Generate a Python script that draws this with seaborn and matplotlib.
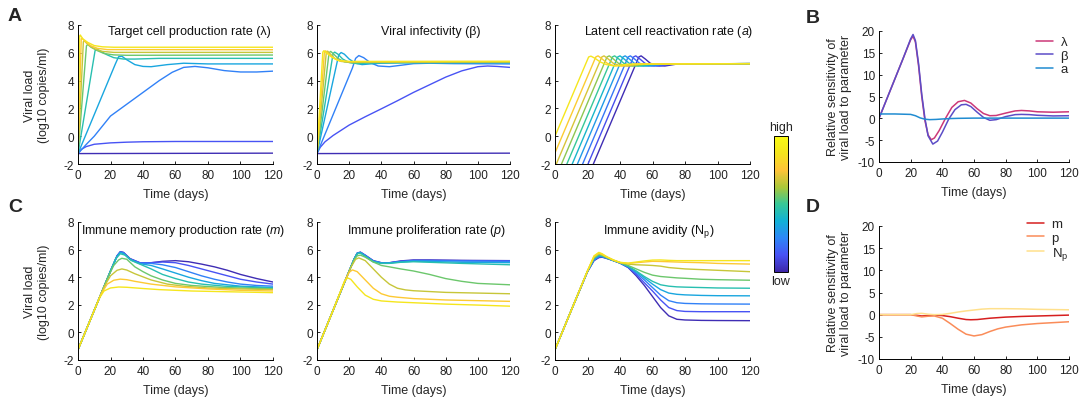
import numpy as np
import matplotlib
matplotlib.use('Agg')
import matplotlib.pyplot as plt
import seaborn as sns
from matplotlib.colors import LinearSegmentedColormap
from matplotlib.cm import ScalarMappable

# ---------------- data ----------------
# Panel A1: target cell production rate (lambda), low -> high
lam_t = [
    [0, 120],
    [0, 2, 5, 10, 20, 30, 40, 60, 80, 120],
    [0, 5, 10, 20, 30, 40, 50, 58, 65, 72, 80, 90, 100, 110, 120],
    [0, 23, 25, 27, 30, 35, 40, 45, 55, 65, 80, 120],
    [0, 10.5, 11.5, 14, 18, 22, 28, 35, 50, 120],
    [0, 5.2, 6, 8, 12, 16, 22, 30, 120],
    [0, 3.3, 4, 6, 10, 15, 22, 120],
    [0, 2.0, 2.5, 4, 8, 12, 18, 120],
    [0, 1.0, 1.4, 3, 6, 10, 15, 22, 120],
]
lam_v = [
    [-1.25, -1.22],
    [-1.25, -0.95, -0.75, -0.58, -0.48, -0.43, -0.4, -0.38, -0.38, -0.38],
    [-1.25, -0.6, 0.0, 1.45, 2.3, 3.15, 4.0, 4.6, 4.95, 5.02, 4.92, 4.72, 4.62, 4.62, 4.68],
    [-1.25, 5.2, 5.72, 5.75, 5.5, 5.15, 5.02, 5.0, 5.15, 5.25, 5.2, 5.2],
    [-1.25, 6.15, 6.27, 6.1, 5.85, 5.65, 5.55, 5.55, 5.6, 5.6],
    [-1.25, 6.5, 6.6, 6.4, 6.15, 5.95, 5.85, 5.82, 5.84],
    [-1.25, 6.8, 6.85, 6.6, 6.3, 6.1, 6.03, 6.03],
    [-1.25, 7.0, 7.05, 6.85, 6.5, 6.32, 6.23, 6.22],
    [-1.25, 7.2, 7.28, 7.0, 6.75, 6.52, 6.43, 6.4, 6.4],
]

# Panel A2: viral infectivity (beta), low -> high
beta_t = [
    [0, 120],
    [0, 2, 5, 10, 20, 30, 40, 50, 60, 70, 80, 90, 100, 106, 112, 120],
    [0, 22, 24, 26, 29, 33, 38, 45, 52, 60, 70, 85, 120],
    [0, 13.5, 15, 17, 20, 24, 28, 33, 40, 60, 120],
    [0, 10, 11, 13, 16, 20, 25, 35, 120],
    [0, 7.5, 8.5, 10, 13, 17, 22, 30, 120],
    [0, 5.8, 6.6, 8, 11, 15, 20, 30, 120],
    [0, 4.6, 5.4, 7, 10, 14, 20, 120],
    [0, 3.6, 4.3, 6, 9, 13, 20, 120],
]
beta_v = [
    [-1.25, -1.22],
    [-1.25, -0.8, -0.4, 0.05, 0.8, 1.4, 1.97, 2.55, 3.15, 3.7, 4.25, 4.7, 5.0, 5.05, 5.02, 4.95],
    [-1.25, 4.9, 5.6, 5.8, 5.65, 5.3, 5.05, 5.0, 5.1, 5.22, 5.25, 5.22, 5.2],
    [-1.25, 5.85, 6.02, 5.9, 5.55, 5.25, 5.15, 5.2, 5.25, 5.3, 5.28],
    [-1.25, 5.95, 6.05, 5.9, 5.55, 5.3, 5.22, 5.28, 5.3],
    [-1.25, 6.0, 6.1, 5.95, 5.6, 5.35, 5.28, 5.3, 5.32],
    [-1.25, 6.05, 6.12, 5.95, 5.6, 5.38, 5.32, 5.33, 5.35],
    [-1.25, 6.05, 6.14, 5.95, 5.65, 5.42, 5.36, 5.37],
    [-1.25, 6.05, 6.15, 5.98, 5.7, 5.45, 5.38, 5.39],
]

# Panel A3: latent cell reactivation rate (a), low -> high
lat_t = [
    [23.6, 49.6, 51.6, 53.0, 55.6, 58.6, 62.6, 67.6, 75.6, 120],
    [20.3, 46.3, 48.3, 49.7, 52.3, 55.3, 59.3, 64.3, 72.3, 120],
    [17.0, 43.0, 45.0, 46.4, 49.0, 52.0, 56.0, 61.0, 69.0, 120],
    [13.8, 39.8, 41.8, 43.2, 45.8, 48.8, 52.8, 57.8, 65.8, 120],
    [10.6, 36.6, 38.6, 40.0, 42.6, 45.6, 49.6, 54.6, 62.6, 120],
    [7.3, 33.3, 35.3, 36.7, 39.3, 42.3, 46.3, 51.3, 59.3, 120],
    [4.0, 30.0, 32.0, 33.4, 36.0, 39.0, 43.0, 48.0, 56.0, 120],
    [0.8, 26.8, 28.8, 30.2, 32.8, 35.8, 39.8, 44.8, 52.8, 120],
    [0, 23.1, 25.1, 26.5, 29.1, 32.1, 36.1, 41.1, 49.1, 120],
    [0, 18.7, 20.7, 22.1, 24.7, 27.7, 31.7, 36.7, 44.7, 120],
]
lat_v = [
    [-2.0, 5.15, 5.7, 5.78, 5.55, 5.25, 5.08, 5.05, 5.2, 5.22],
    [-2.0, 5.15, 5.7, 5.78, 5.55, 5.25, 5.08, 5.05, 5.2, 5.22],
    [-2.0, 5.15, 5.7, 5.78, 5.55, 5.25, 5.08, 5.05, 5.2, 5.22],
    [-2.0, 5.15, 5.7, 5.78, 5.55, 5.25, 5.08, 5.05, 5.2, 5.22],
    [-2.0, 5.15, 5.7, 5.78, 5.55, 5.25, 5.08, 5.05, 5.2, 5.22],
    [-2.0, 5.15, 5.7, 5.78, 5.55, 5.25, 5.08, 5.05, 5.2, 5.22],
    [-2.0, 5.15, 5.7, 5.78, 5.55, 5.25, 5.08, 5.05, 5.2, 5.22],
    [-2.0, 5.15, 5.7, 5.78, 5.55, 5.25, 5.08, 5.05, 5.2, 5.22],
    [-1.2, 5.15, 5.7, 5.78, 5.55, 5.25, 5.08, 5.05, 5.2, 5.22],
    [0.0, 5.15, 5.7, 5.76, 5.6, 5.35, 5.15, 5.05, 5.18, 5.22],
]

# Panel C1: immune memory production rate (m), low -> high
mem_t = [
    [0, 10, 20, 24, 26, 28, 32, 38, 45, 52, 60, 68, 76, 84, 92, 100, 110, 120],
    [0, 10, 20, 24, 26, 28, 32, 38, 45, 52, 60, 68, 76, 84, 92, 100, 110, 120],
    [0, 10, 20, 24, 26, 28, 32, 38, 45, 52, 60, 68, 76, 84, 92, 100, 110, 120],
    [0, 10, 20, 24, 26, 28, 32, 38, 45, 52, 60, 68, 76, 84, 92, 100, 110, 120],
    [0, 10, 20, 23, 26, 29, 33, 40, 45, 52, 60, 68, 76, 90, 120],
    [0, 10, 18, 22, 25, 27, 30, 35, 40, 45, 52, 60, 70, 90, 120],
    [0, 10, 16, 20, 24, 27, 30, 35, 45, 55, 65, 80, 100, 120],
    [0, 10, 14, 18, 22, 26, 30, 35, 45, 60, 80, 100, 120],
    [0, 10, 13, 16, 20, 25, 30, 40, 50, 70, 90, 120],
]
mem_v = [
    [-1.25, 1.6, 4.45, 5.55, 5.85, 5.8, 5.35, 5.05, 5.05, 5.15, 5.2, 5.12, 4.95, 4.75, 4.5, 4.2, 3.9, 3.65],
    [-1.25, 1.6, 4.45, 5.53, 5.83, 5.78, 5.33, 5.05, 5.05, 5.1, 5.05, 4.85, 4.6, 4.35, 4.1, 3.85, 3.65, 3.5],
    [-1.25, 1.6, 4.45, 5.52, 5.82, 5.76, 5.3, 5.02, 5.0, 4.9, 4.7, 4.4, 4.1, 3.85, 3.65, 3.5, 3.4, 3.35],
    [-1.25, 1.6, 4.45, 5.5, 5.78, 5.72, 5.28, 4.98, 4.85, 4.6, 4.3, 4.0, 3.75, 3.55, 3.45, 3.35, 3.3, 3.25],
    [-1.25, 1.6, 4.45, 5.3, 5.7, 5.6, 5.2, 4.85, 4.6, 4.2, 3.9, 3.65, 3.5, 3.35, 3.2],
    [-1.25, 1.6, 3.9, 4.85, 5.25, 5.37, 5.3, 4.75, 4.4, 4.1, 3.8, 3.55, 3.4, 3.25, 3.15],
    [-1.25, 1.6, 3.3, 4.1, 4.5, 4.6, 4.52, 4.25, 3.8, 3.5, 3.35, 3.22, 3.15, 3.1],
    [-1.25, 1.6, 2.75, 3.5, 3.78, 3.86, 3.82, 3.7, 3.5, 3.3, 3.15, 3.05, 3.0],
    [-1.25, 1.6, 2.45, 3.0, 3.22, 3.29, 3.27, 3.18, 3.1, 3.0, 2.95, 2.88],
]

# Panel C2: immune proliferation rate (p), low -> high
pro_t = [
    [0, 10, 20, 23, 25, 27, 30, 35, 40, 45, 52, 60, 70, 90, 120],
    [0, 10, 20, 23, 25, 27, 30, 35, 40, 45, 52, 60, 70, 90, 120],
    [0, 10, 20, 23, 25, 27, 30, 35, 40, 45, 52, 60, 70, 90, 120],
    [0, 10, 20, 23, 25, 27, 30, 35, 40, 45, 52, 60, 70, 90, 120],
    [0, 10, 20, 23, 25, 27, 30, 35, 40, 45, 52, 60, 70, 90, 120],
    [0, 10, 20, 23, 25, 27, 30, 35, 40, 45, 52, 60, 70, 80, 90, 100, 120],
    [0, 10, 18, 21, 24, 26, 30, 35, 40, 45, 50, 55, 60, 80, 100, 120],
    [0, 10, 15, 18, 20, 22, 25, 30, 35, 40, 45, 50, 60, 80, 100, 120],
    [0, 10, 14, 17, 19, 21, 25, 30, 35, 40, 50, 60, 80, 100, 120],
]
pro_v = [
    [-1.25, 1.6, 4.45, 5.3, 5.75, 5.82, 5.6, 5.2, 5.05, 5.05, 5.18, 5.25, 5.25, 5.22, 5.2],
    [-1.25, 1.6, 4.45, 5.3, 5.74, 5.8, 5.58, 5.18, 5.04, 5.04, 5.15, 5.22, 5.22, 5.2, 5.18],
    [-1.25, 1.6, 4.45, 5.3, 5.73, 5.79, 5.56, 5.16, 5.03, 5.04, 5.13, 5.2, 5.2, 5.17, 5.15],
    [-1.25, 1.6, 4.45, 5.3, 5.72, 5.78, 5.55, 5.15, 5.02, 5.03, 5.1, 5.16, 5.14, 5.08, 5.05],
    [-1.25, 1.6, 4.45, 5.28, 5.7, 5.75, 5.5, 5.1, 5.0, 5.0, 5.08, 5.12, 5.08, 5.0, 4.9],
    [-1.25, 1.6, 4.45, 5.25, 5.55, 5.6, 5.45, 5.1, 4.85, 4.75, 4.6, 4.45, 4.2, 3.9, 3.7, 3.55, 3.45],
    [-1.25, 1.6, 3.9, 4.7, 5.3, 5.4, 5.2, 4.6, 4.0, 3.5, 3.2, 3.08, 3.02, 2.9, 2.85, 2.8],
    [-1.25, 1.6, 3.05, 3.9, 4.35, 4.53, 4.4, 3.8, 3.2, 2.8, 2.62, 2.55, 2.45, 2.35, 2.3, 2.25],
    [-1.25, 1.6, 2.8, 3.7, 3.95, 3.85, 3.3, 2.7, 2.4, 2.28, 2.2, 2.15, 2.05, 1.98, 1.9],
]

# Panel C3: immune avidity (Np), low -> high
avi_t = [0, 10, 20, 24, 27, 29, 32, 36, 40, 45, 50, 55, 60, 65, 70, 75, 80, 90, 100, 120]
avi_v = [
    [-1.25, 1.6, 4.4, 5.2, 5.42, 5.45, 5.35, 5.2, 5.02, 4.7, 4.1, 3.4, 2.6, 1.8, 1.2, 0.95, 0.9, 0.87, 0.86, 0.85],
    [-1.25, 1.6, 4.4, 5.22, 5.46, 5.48, 5.37, 5.2, 5.03, 4.72, 4.2, 3.6, 3.0, 2.35, 1.8, 1.58, 1.52, 1.5, 1.5, 1.5],
    [-1.25, 1.6, 4.42, 5.26, 5.5, 5.5, 5.38, 5.2, 5.03, 4.75, 4.3, 3.8, 3.25, 2.7, 2.3, 2.15, 2.1, 2.07, 2.06, 2.05],
    [-1.25, 1.6, 4.42, 5.3, 5.55, 5.52, 5.38, 5.2, 5.04, 4.78, 4.4, 3.95, 3.5, 3.1, 2.85, 2.76, 2.72, 2.68, 2.66, 2.65],
    [-1.25, 1.6, 4.43, 5.35, 5.6, 5.55, 5.4, 5.2, 5.05, 4.8, 4.45, 4.05, 3.7, 3.45, 3.35, 3.3, 3.28, 3.25, 3.22, 3.2],
    [-1.25, 1.6, 4.44, 5.4, 5.65, 5.58, 5.42, 5.22, 5.05, 4.85, 4.6, 4.35, 4.15, 4.05, 4.0, 3.95, 3.92, 3.85, 3.82, 3.78],
    [-1.25, 1.6, 4.45, 5.45, 5.7, 5.62, 5.44, 5.22, 5.06, 4.95, 4.9, 4.88, 4.85, 4.8, 4.7, 4.65, 4.6, 4.55, 4.5, 4.4],
    [-1.25, 1.6, 4.45, 5.5, 5.75, 5.66, 5.46, 5.24, 5.06, 5.0, 5.05, 5.1, 5.15, 5.14, 5.12, 5.1, 5.08, 5.05, 5.0, 4.95],
    [-1.25, 1.6, 4.46, 5.55, 5.8, 5.7, 5.48, 5.25, 5.08, 5.02, 5.1, 5.18, 5.24, 5.25, 5.22, 5.2, 5.2, 5.2, 5.2, 5.2],
]

# Panel B: relative sensitivity (lambda, beta, a)
sens_lam_t = [0, 5, 10, 15, 20, 21.5, 23, 25, 27, 29, 31, 33, 35, 38, 42, 46, 50, 54, 58, 62, 66, 70, 74, 80, 86, 90, 95, 100, 110, 120]
sens_lam_v = [0, 4.5, 9, 13.5, 18, 18.8, 17.5, 12, 5, -0.5, -3.8, -4.9, -4.5, -2.8, 0, 2.5, 3.8, 4.1, 3.5, 2.2, 1.1, 0.6, 0.65, 1.2, 1.7, 1.8, 1.7, 1.5, 1.4, 1.5]
sens_beta_t = [0, 5, 10, 15, 20, 21.5, 23, 25, 27, 29, 31, 34, 37, 40, 44, 48, 52, 55, 58, 62, 66, 70, 74, 80, 86, 90, 95, 100, 110, 120]
sens_beta_v = [0, 4.5, 9, 13.5, 18.2, 19.2, 17.8, 12.5, 5.5, 0, -4, -5.9, -5.2, -3.2, -0.2, 2.0, 3.1, 3.2, 2.7, 1.4, 0.2, -0.45, -0.3, 0.4, 0.85, 0.9, 0.85, 0.7, 0.55, 0.6]
sens_a_t = [0, 10, 20, 23, 26, 29, 32, 36, 40, 45, 50, 60, 80, 100, 120]
sens_a_v = [1.0, 1.0, 0.9, 0.6, 0.1, -0.2, -0.3, -0.25, -0.15, -0.05, 0.0, 0.05, 0.05, 0.05, 0.05]

# Panel D: relative sensitivity (m, p, Np)
sens_m_t = [0, 20, 24, 27, 31, 35, 40, 45, 50, 55, 58, 62, 66, 70, 80, 90, 100, 110, 120]
sens_m_v = [0, 0, -0.15, -0.3, -0.2, -0.1, -0.2, -0.45, -0.8, -1.1, -1.15, -1.1, -0.95, -0.8, -0.55, -0.4, -0.3, -0.2, -0.1]
sens_p_t = [0, 20, 24, 27, 31, 35, 40, 45, 50, 55, 60, 65, 70, 75, 80, 90, 100, 110, 120]
sens_p_v = [0, 0, -0.3, -0.5, -0.35, -0.3, -0.8, -2.0, -3.3, -4.4, -4.8, -4.5, -3.8, -3.2, -2.8, -2.3, -2.0, -1.8, -1.6]
sens_np_t = [0, 20, 24, 27, 31, 35, 40, 45, 50, 55, 60, 65, 70, 80, 90, 100, 110, 120]
sens_np_v = [0, 0, 0.25, 0.3, 0.1, 0, 0.05, 0.3, 0.6, 0.85, 1.05, 1.25, 1.35, 1.35, 1.3, 1.2, 1.15, 1.1]

titles_top = ['Target cell production rate (λ)', 'Viral infectivity (β)',
              'Latent cell reactivation rate ($a$)']
titles_bot = ['Immune memory production rate ($m$)', 'Immune proliferation rate ($p$)',
              r'Immune avidity (N$_{\mathrm{p}}$)']
legend_B = ['λ', 'β', 'a']
legend_D = ['m', 'p', r'N$_{\mathrm{p}}$']
x_ticks = [0, 20, 40, 60, 80, 100, 120]
y_ticks_vl = [-2, 0, 2, 4, 6, 8]
y_ticks_s = [-10, -5, 0, 5, 10, 15, 20]

# ---------------- style ----------------
sns.set_theme(style='ticks')
plt.rcParams['font.family'] = ['Liberation Sans', 'DejaVu Sans']
plt.rcParams.update({
    'font.size': 8.5,
    'axes.unicode_minus': False,
    'mathtext.fontset': 'custom',
    'mathtext.rm': 'Liberation Sans',
    'mathtext.it': 'Liberation Sans:italic',
    'mathtext.bf': 'Liberation Sans:bold',
    'xtick.direction': 'in',
    'ytick.direction': 'in',
    'xtick.major.size': 2.5,
    'ytick.major.size': 2.5,
    'xtick.major.width': 0.6,
    'ytick.major.width': 0.6,
    'xtick.major.pad': 3.5,
    'ytick.major.pad': 3,
    'axes.linewidth': 0.7,
    'axes.edgecolor': 'black',
    'xtick.color': 'black',
    'ytick.color': 'black',
    'xtick.labelcolor': '#222222',
    'ytick.labelcolor': '#222222',
    'xtick.labelsize': 8.5,
    'ytick.labelsize': 8.5,
})

parula = LinearSegmentedColormap.from_list('parula', [
    (0.000, (0.2422, 0.1504, 0.6603)),
    (0.125, (0.2810, 0.3228, 0.9579)),
    (0.250, (0.1786, 0.5289, 0.9682)),
    (0.375, (0.0689, 0.6948, 0.8394)),
    (0.500, (0.2161, 0.7843, 0.5923)),
    (0.625, (0.6720, 0.7793, 0.2227)),
    (0.750, (0.9970, 0.7659, 0.2199)),
    (0.875, (0.9598, 0.8949, 0.1150)),
    (1.000, (0.9769, 0.9839, 0.0805)),
])

W, H = 1081, 402
fig = plt.figure(figsize=(W / 100, H / 100), dpi=100)


def px_axes(l, t, r, b):
    return fig.add_axes([l / W, 1 - b / H, (r - l) / W, (b - t) / H])


def style_ax(ax, ylim, yticks):
    ax.set_xlim(0, 120)
    ax.set_ylim(*ylim)
    ax.set_xticks(x_ticks)
    ax.set_yticks(yticks)
    sns.despine(ax=ax)
    ax.set_xlabel('Time (days)', fontsize=9, labelpad=5)
    ax.set_ylabel('')


def draw_family(ax, ts, vs, n_offset=(0.02, 0.88), lw=1.0):
    n = len(vs)
    cols = parula(np.linspace(n_offset[0], n_offset[1], n))
    for i in range(n):
        t = ts[i] if isinstance(ts[0], list) else ts
        sns.lineplot(x=t, y=vs[i], ax=ax, color=cols[i], linewidth=lw)


axA = [px_axes(78, 26, 273, 165), px_axes(317, 26, 510, 165), px_axes(555, 26, 750, 165)]
axC = [px_axes(78, 223, 273, 361), px_axes(317, 223, 510, 361), px_axes(555, 223, 750, 361)]
axB = px_axes(879, 32, 1069, 163)
axD = px_axes(879, 227, 1069, 360)
cax = px_axes(774, 137, 788, 273)

draw_family(axA[0], lam_t, lam_v)
draw_family(axA[1], beta_t, beta_v)
draw_family(axA[2], lat_t, lat_v)
draw_family(axC[0], mem_t, mem_v)
draw_family(axC[1], pro_t, pro_v)
draw_family(axC[2], avi_t, avi_v)

title_x_top = [0.57, 0.59, 0.585]
title_x_bot = [0.54, 0.565, 0.53]
for i, ax in enumerate(axA):
    style_ax(ax, (-2, 8), y_ticks_vl)
    ax.text(title_x_top[i], 0.955, titles_top[i], transform=ax.transAxes,
            ha='center', va='center', fontsize=9, color='#111111')
for i, ax in enumerate(axC):
    style_ax(ax, (-2, 8), y_ticks_vl)
    ax.text(title_x_bot[i], 0.94, titles_bot[i], transform=ax.transAxes,
            ha='center', va='center', fontsize=9, color='#111111')

for ax in (axA[0], axC[0]):
    ax.set_ylabel('Viral load\n(log10 copies/ml)', fontsize=9, linespacing=1.15)
    ax.yaxis.set_label_coords(-0.145, 0.5)

# Panel B
col_lam, col_beta, col_a = (0.80, 0.22, 0.47), (0.36, 0.30, 0.78), (0.13, 0.55, 0.82)
sns.lineplot(x=sens_lam_t, y=sens_lam_v, ax=axB, color=col_lam, linewidth=1.1, label=legend_B[0])
sns.lineplot(x=sens_beta_t, y=sens_beta_v, ax=axB, color=col_beta, linewidth=1.1, label=legend_B[1])
sns.lineplot(x=sens_a_t, y=sens_a_v, ax=axB, color=col_a, linewidth=1.1, label=legend_B[2])
style_ax(axB, (-10, 20), y_ticks_s)

# Panel D
col_m, col_p, col_np = (0.84, 0.12, 0.12), (0.98, 0.55, 0.35), (1.0, 0.88, 0.55)
sns.lineplot(x=sens_m_t, y=sens_m_v, ax=axD, color=col_m, linewidth=1.1, label=legend_D[0])
sns.lineplot(x=sens_p_t, y=sens_p_v, ax=axD, color=col_p, linewidth=1.1, label=legend_D[1])
sns.lineplot(x=sens_np_t, y=sens_np_v, ax=axD, color=col_np, linewidth=1.1, label=legend_D[2])
style_ax(axD, (-10, 20), y_ticks_s)

for ax, top_px in ((axB, 37), (axD, 219)):
    ax.legend(loc='upper right', bbox_to_anchor=(1068 / W, 1 - top_px / H),
              bbox_transform=fig.transFigure, frameon=False, fontsize=9.5,
              handlelength=1.25, handletextpad=0.6, labelspacing=0.1, borderpad=0.0,
              borderaxespad=0.0)
    ax.set_ylabel('Relative sensitivity of\nviral load to parameter', fontsize=9, linespacing=1.15)
    ax.yaxis.set_label_coords(-0.14, 0.5)

# colorbar
sm = ScalarMappable(cmap=parula)
sm.set_array([0, 1])
cb = fig.colorbar(sm, cax=cax)
cb.set_ticks([0.125, 0.25, 0.375, 0.5, 0.625, 0.75, 0.875])
cb.ax.tick_params(labelright=False, length=2, direction='in', width=0.5)
cb.outline.set_linewidth(0.7)
fig.text(781 / W, 1 - 128 / H, 'high', ha='center', va='center', fontsize=9)
fig.text(781 / W, 1 - 282 / H, 'low', ha='center', va='center', fontsize=9)

# panel letters
for letter, x, y in (('A', 8, 8), ('B', 806, 10), ('C', 8, 199), ('D', 806, 199)):
    fig.text(x / W, 1 - y / H, letter, ha='left', va='top', fontsize=14, fontweight='bold')

fig.savefig('out.png', dpi=100)
